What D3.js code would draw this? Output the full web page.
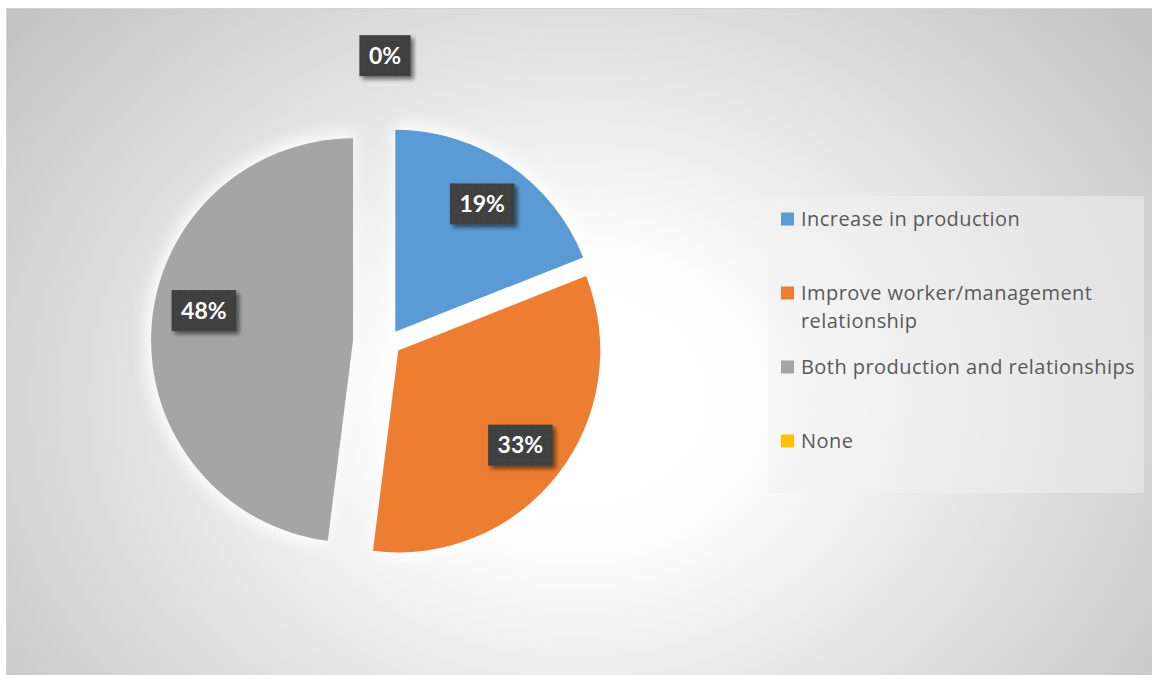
<!DOCTYPE html>
<html>
<head>
<meta charset="utf-8">
<script src="https://cdn.jsdelivr.net/npm/d3@7"></script>
<style>
  html, body { margin: 0; padding: 0; background: #ffffff; }
  svg { display: block; }
</style>
</head>
<body>
<svg id="chart" width="1152" height="675"></svg>
<script>
// Purpose of the programme, share of responses (%)
const categories = [
  "Increase in production",
  "Improve worker/management relationship",
  "Both production and relationships",
  "None"
];
const shares = [19, 33, 48, 0];
const valueLabels = ["19%", "33%", "48%", "0%"];

// Look of the chart
const colors = ["#5B9BD5", "#ED7D31", "#A5A5A5", "#FFC000"];
const W = 1152, H = 675;
const cx = 388, cy = 342.5, R = 202;
const explode = [13, 13, 35, 0];           // slice pull-out, px
const labelDist = [0.765, 0.765, 0.765, 1.42]; // label distance as fraction of R
const labelNudge = [[0, 0], [0, 0], [5, -20], [-3, 0]];

const svg = d3.select("#chart");
const defs = svg.append("defs");

// background: soft radial gradient, white in the middle, grey at the edges
const bg = defs.append("radialGradient")
  .attr("id", "bgGrad")
  .attr("gradientUnits", "userSpaceOnUse")
  .attr("cx", 576).attr("cy", 400).attr("r", 700)
  .attr("gradientTransform", "translate(576,400) scale(1.05,0.85) translate(-576,-400)");
bg.append("stop").attr("offset", 0).attr("stop-color", "#ffffff");
bg.append("stop").attr("offset", 0.25).attr("stop-color", "#fdfdfd");
bg.append("stop").attr("offset", 1).attr("stop-color", "#c3c3c3");

// white halo behind the slices
const glow = defs.append("filter").attr("id", "glow")
  .attr("x", "-30%").attr("y", "-30%").attr("width", "160%").attr("height", "160%");
glow.append("feGaussianBlur").attr("stdDeviation", 7);

// drop shadow for data label boxes
const shadow = defs.append("filter").attr("id", "boxShadow")
  .attr("x", "-30%").attr("y", "-30%").attr("width", "160%").attr("height", "160%");
shadow.append("feGaussianBlur").attr("in", "SourceAlpha").attr("stdDeviation", 2.2).attr("result", "b");
shadow.append("feOffset").attr("in", "b").attr("dx", 3).attr("dy", 3).attr("result", "o");
shadow.append("feComponentTransfer").attr("in", "o").attr("result", "s")
  .append("feFuncA").attr("type", "linear").attr("slope", 0.55);
const merge = shadow.append("feMerge");
merge.append("feMergeNode").attr("in", "s");
merge.append("feMergeNode").attr("in", "SourceGraphic");

// faint dotted texture of the label boxes
const dots = defs.append("pattern").attr("id", "dots")
  .attr("patternUnits", "userSpaceOnUse").attr("width", 6).attr("height", 6);
dots.append("rect").attr("width", 6).attr("height", 6).attr("fill", "#3f3f3f");
dots.append("rect").attr("x", 2).attr("y", 2).attr("width", 1.2).attr("height", 1.2).attr("fill", "#4e4e4e");

// chart area
svg.append("rect")
  .attr("x", 6.5).attr("y", 8.5)
  .attr("width", W).attr("height", H)
  .attr("fill", "url(#bgGrad)")
  .attr("stroke", "#d4d4d4").attr("stroke-width", 1);

// pie
const pie = d3.pie().sort(null).value(d => d);
const arcs = pie(shares);
const arc = d3.arc().innerRadius(0).outerRadius(R);
const mid = d => (d.startAngle + d.endAngle) / 2;
const dir = a => [Math.sin(a), -Math.cos(a)];

const pieG = svg.append("g").attr("transform", `translate(${cx},${cy})`);

const sliceOffset = (d, i) => {
  const [ux, uy] = dir(mid(d));
  return [ux * explode[i], uy * explode[i]];
};

pieG.selectAll("path.halo")
  .data(arcs)
  .join("path")
  .attr("class", "halo")
  .attr("d", arc)
  .attr("transform", (d, i) => { const o = sliceOffset(d, i); return `translate(${o[0]},${o[1]}) scale(1.03)`; })
  .attr("fill", "#ffffff")
  .attr("opacity", 0.9)
  .attr("filter", "url(#glow)");

pieG.selectAll("path.slice")
  .data(arcs)
  .join("path")
  .attr("class", "slice")
  .attr("d", arc)
  .attr("transform", (d, i) => { const o = sliceOffset(d, i); return `translate(${o[0]},${o[1]})`; })
  .attr("fill", (d, i) => colors[i]);

// data labels
const labelG = pieG.selectAll("g.dlabel")
  .data(arcs)
  .join("g")
  .attr("class", "dlabel")
  .attr("transform", (d, i) => {
    const o = sliceOffset(d, i);
    const [ux, uy] = dir(mid(d));
    const x = o[0] + ux * R * labelDist[i] + labelNudge[i][0];
    const y = o[1] + uy * R * labelDist[i] + labelNudge[i][1];
    return `translate(${x},${y})`;
  });

labelG.each(function(d, i) {
  const g = d3.select(this);
  const box = g.append("rect").attr("fill", "url(#dots)").attr("filter", "url(#boxShadow)");
  const t = g.append("text")
    .attr("text-anchor", "middle")
    .attr("dy", "0.36em")
    .attr("fill", "#ffffff")
    .attr("font-family", "Lato, 'Open Sans', sans-serif")
    .attr("font-weight", 700)
    .attr("font-size", 23)
    .text(valueLabels[i]);
  const w = t.node().getComputedTextLength() + 19;
  const h = 41;
  box.attr("x", -w / 2).attr("y", -h / 2).attr("width", w).attr("height", h);
});

// legend
const legend = svg.append("g").attr("transform", "translate(768,196)");
legend.append("rect")
  .attr("width", 376).attr("height", 297)
  .attr("fill", "#f2f2f2").attr("fill-opacity", 0.5);

const legendY = d3.scalePoint()
  .domain(categories)
  .range([23, 245]);

const maxTextWidth = 345;
const items = legend.selectAll("g.item")
  .data(categories)
  .join("g")
  .attr("class", "item")
  .attr("transform", d => `translate(0,${legendY(d)})`);

items.append("rect")
  .attr("x", 13).attr("y", -6.5)
  .attr("width", 13).attr("height", 13)
  .attr("fill", (d, i) => colors[i]);

items.each(function(d) {
  const g = d3.select(this);
  const text = g.append("text")
    .attr("x", 33)
    .attr("font-family", "'Open Sans', Lato, sans-serif")
    .attr("font-size", 20)
    .attr("letter-spacing", 0.45)
    .attr("fill", "#595959");
  // wrap long entries onto a second line
  const words = d.split(" ");
  let line = [];
  let tspan = text.append("tspan").attr("x", 33).attr("y", 0).attr("dy", "0.35em");
  const lines = [tspan];
  for (const w of words) {
    line.push(w);
    tspan.text(line.join(" "));
    if (tspan.node().getComputedTextLength() > maxTextWidth && line.length > 1) {
      line.pop();
      tspan.text(line.join(" "));
      line = [w];
      tspan = text.append("tspan").attr("x", 33).attr("y", 0).text(w);
      lines.push(tspan);
    }
  }
  lines.forEach((ts, k) => ts.attr("dy", (0.35 + k * 1.4) + "em"));
});
</script>
</body>
</html>
